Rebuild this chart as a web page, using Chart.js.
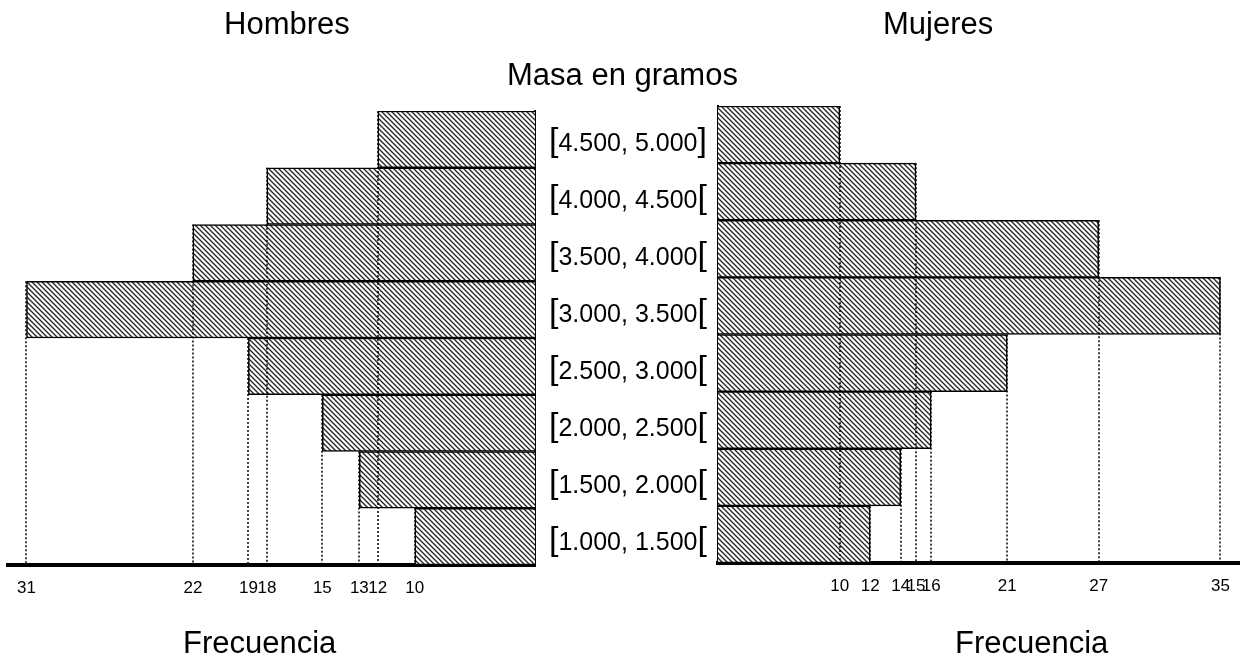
<!DOCTYPE html>
<html lang="es">
<head>
<meta charset="utf-8">
<title>Masa en gramos</title>
<script src="https://cdn.jsdelivr.net/npm/chart.js@4/dist/chart.umd.min.js"></script>
<style>
  body { margin: 0; background: #fff; }
  #wrap { position: relative; width: 1243px; height: 656px; font-family: "Liberation Sans", Arial, sans-serif; color: #000; }
  canvas { position: absolute; top: 0; }
  .t { position: absolute; font-size: 31px; line-height: 1; white-space: nowrap; }
</style>
</head>
<body>
<div id="wrap">
  <canvas id="hombres" width="545" height="656" style="left:0"></canvas>
  <canvas id="mujeres" width="703" height="656" style="left:540px"></canvas>
  <div class="t" style="left:224px;top:8px">Hombres</div>
  <div class="t" style="left:883px;top:8px">Mujeres</div>
  <div class="t" style="left:507px;top:59px">Masa en gramos</div>
  <div class="t" style="left:183px;top:627px">Frecuencia</div>
  <div class="t" style="left:955px;top:627px">Frecuencia</div>
</div>
<script>
// intervals, top row first
const categories = ['[4.500, 5.000]', '[4.000, 4.500[', '[3.500, 4.000[', '[3.000, 3.500[',
                    '[2.500, 3.000[', '[2.000, 2.500[', '[1.500, 2.000[', '[1.000, 1.500['];
const hombres = [12, 18, 22, 31, 19, 15, 13, 10];
const mujeres = [10, 15, 27, 35, 21, 16, 14, 12];

const FONT = '"Liberation Sans", Arial, sans-serif';
Chart.defaults.font.family = FONT;
Chart.defaults.color = '#000';

// diagonal hatch fill
function hatch() {
  const s = 5;
  const c = document.createElement('canvas');
  c.width = c.height = s;
  const g = c.getContext('2d');
  g.fillStyle = '#fff';
  g.fillRect(0, 0, s, s);
  g.strokeStyle = '#222';
  g.lineWidth = 1.3;
  g.beginPath();
  g.moveTo(-1, -1); g.lineTo(s + 1, s + 1);
  g.moveTo(-1, s - 1); g.lineTo(1, s + 1);
  g.moveTo(s - 1, -1); g.lineTo(s + 1, 1);
  g.stroke();
  return g.createPattern(c, 'repeat');
}
const fill = hatch();

// dotted line from each bar end down to the axis
const dropLines = {
  id: 'dropLines',
  afterDatasetsDraw(chart) {
    const { ctx, chartArea } = chart;
    ctx.save();
    ctx.strokeStyle = '#000';
    ctx.lineWidth = 1.5;
    ctx.setLineDash([2, 2]);
    chart.getDatasetMeta(0).data.forEach(bar => {
      const x = Math.round(bar.x);
      ctx.beginPath();
      ctx.moveTo(x, bar.y - bar.height / 2);
      ctx.lineTo(x, chartArea.bottom);
      ctx.stroke();
    });
    ctx.restore();
  }
};

// interval labels between the two panels, brackets set larger
const intervalLabels = {
  id: 'intervalLabels',
  afterDraw(chart) {
    const { ctx, chartArea, scales: { y } } = chart;
    ctx.save();
    ctx.fillStyle = '#000';
    ctx.textAlign = 'left';
    ctx.textBaseline = 'alphabetic';
    categories.forEach((label, i) => {
      const base = y.getPixelForTick(i) + 16;
      let x = chartArea.left - 169;
      [[label[0], 34], [label.slice(1, -1), 25], [label.slice(-1), 34]].forEach(([s, size]) => {
        ctx.font = size + 'px ' + FONT;
        ctx.fillText(s, x, base);
        x += ctx.measureText(s).width;
      });
    });
    ctx.restore();
  }
};

function xAxis(values, min, max, reverse) {
  return {
    type: 'linear',
    reverse, min, max,
    afterBuildTicks: s => {
      s.ticks = [...new Set(values)].sort((a, b) => a - b).map(v => ({ value: v }));
    },
    afterFit: s => { s.height = 40; },
    grid: { display: false, drawTicks: false },
    border: { display: true, color: '#000', width: 4 },
    ticks: { autoSkip: false, maxRotation: 0, padding: 13, color: '#000', font: { size: 17 } }
  };
}

function yAxis(position) {
  return {
    position,
    afterFit: s => { s.width = 0; },
    grid: { display: false, drawTicks: false },
    ticks: { display: false },
    border: { display: true, color: '#000', width: 2 }
  };
}

function dataset(values) {
  return {
    data: values,
    backgroundColor: fill,
    borderColor: '#000',
    borderWidth: 1.5,
    borderSkipped: false,
    barPercentage: 1,
    categoryPercentage: 1,
    clip: 0
  };
}

const common = {
  indexAxis: 'y',
  responsive: false,
  animation: false,
  events: [],
  plugins: { legend: { display: false }, tooltip: { enabled: false } }
};

new Chart(document.getElementById('hombres'), {
  type: 'bar',
  data: { labels: categories, datasets: [dataset(hombres)] },
  options: {
    ...common,
    layout: { padding: { left: 8, right: 10, top: 111, bottom: 51 } },
    scales: { x: xAxis(hombres, 3.5, 32, true), y: yAxis('right') }
  },
  plugins: [dropLines]
});

new Chart(document.getElementById('mujeres'), {
  type: 'bar',
  data: { labels: categories, datasets: [dataset(mujeres)] },
  options: {
    ...common,
    layout: { padding: { left: 178, right: 3, top: 106, bottom: 53 } },
    scales: { x: xAxis(mujeres, 2, 36.25, false), y: yAxis('left') }
  },
  plugins: [dropLines, intervalLabels]
});
</script>
</body>
</html>
